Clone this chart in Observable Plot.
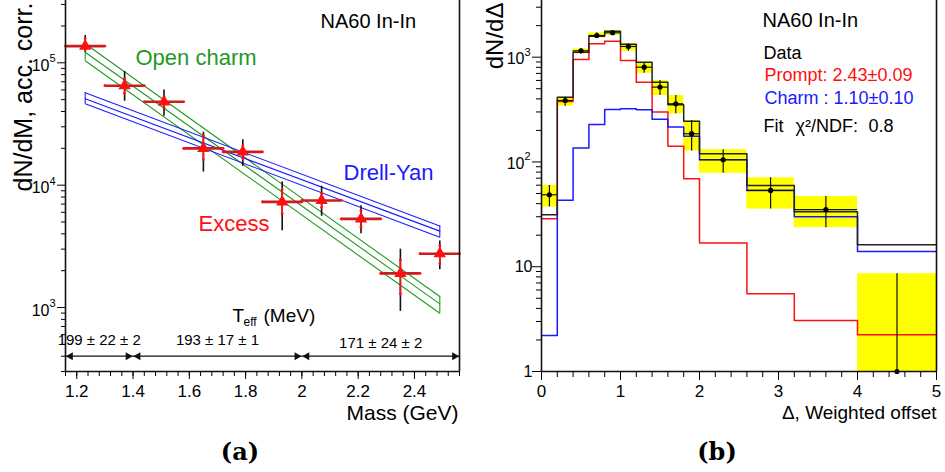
<!DOCTYPE html>
<html><head><meta charset="utf-8">
<script src="https://cdn.jsdelivr.net/npm/d3@7"></script>
<script src="https://cdn.jsdelivr.net/npm/@observablehq/plot@0.6"></script>
<style>
body{margin:0;background:#fff;}
#wrap{position:relative;width:945px;height:472px;font-family:"Liberation Sans",Arial,sans-serif;background:#fff;}
#a,#b{position:absolute;top:0;}
#a{left:0;} #b{left:472px;}
.cap{position:absolute;top:437px;width:60px;text-align:center;font:bold 24px "DejaVu Serif",serif;}
</style></head>
<body><div id="wrap"><div id="a"></div><div id="b"></div>
<div class="cap" style="left:210px">(a)</div><div class="cap" style="left:687px">(b)</div></div>
<script>
// ---------- Panel (a): excess mass spectrum ----------
const massLo  = [1.16, 1.30, 1.44, 1.58, 1.72, 1.86, 2.00, 2.14, 2.28, 2.42];
const massHi  = [1.30, 1.44, 1.58, 1.72, 1.86, 2.00, 2.14, 2.28, 2.42, 2.56];
const massMid = [1.23, 1.37, 1.51, 1.65, 1.79, 1.93, 2.07, 2.21, 2.35, 2.49];
const excess  = [1.37e5, 6.5e4, 4.8e4, 2.0e4, 1.87e4, 7.3e3, 7.5e3, 5.3e3, 1.9e3, 2.75e3];
const systLo  = [1.22e5, 4.85e4, 3.66e4, 1.28e4, 1.43e4, 4.25e3, 5.57e3, 4.0e3, 930, 2.04e3];
const systHi  = [1.67e5, 8.5e4, 6.0e4, 2.71e4, 2.35e4, 1.06e4, 9.8e3, 6.8e3, 3.0e3, 3.5e3];
const statLo  = [1.28e5, 5.64e4, 4.31e4, 1.62e4, 1.65e4, 5.86e3, 6.56e3, 4.53e3, 1.29e3, 2.28e3];
const statHi  = [1.58e5, 7.45e4, 5.3e4, 2.55e4, 2.1e4, 9.2e3, 8.6e3, 6.2e3, 2.45e3, 3.2e3];

const bandMass  = [1.23, 2.49];
const charmLoB  = [1.04e5, 898];
const charmMidB = [1.22e5, 1.07e3];
const charmHiB  = [1.43e5, 1.23e3];
const dyLoB     = [4.63e4, 3.76e3];
const dyMidB    = [5.08e4, 4.21e3];
const dyHiB     = [5.69e4, 4.63e3];

const teffLo     = [1.16, 1.40, 2.00];
const teffHi     = [1.40, 2.00, 2.56];
const teffLabels = ["199 ± 22 ± 2", "193 ± 17 ± 1", "171 ± 24 ± 2"];
const teffArrowLevel = 400;

const massTicks   = [1.2, 1.4, 1.6, 1.8, 2.0, 2.2, 2.4];
const massTickLbl = ["1.2", "1.4", "1.6", "1.8", "2", "2.2", "2.4"];
const yTicksA     = [1e3, 1e4, 1e5];
const yTickExpA   = ["3", "4", "5"];

// ---------- Panel (b): weighted offset ----------
const histEdges = [0, 0.2, 0.4, 0.6, 0.8, 1.0, 1.2, 1.4, 1.6, 1.8, 2.0, 2.6, 3.2, 4.0, 5.0];
const dataVal   = [48.6, 386, 1150, 1610, 1710, 1265, 803, 518, 359, 186, 105, 53.5, 35, 1.0];
const dataLo    = [37.1, 341, 1077, 1531, 1611, 1141, 703, 431, 288, 127, 78, 35.5, 23.6, 1.0];
const dataHi    = [59.7, 415, 1202, 1711, 1799, 1343, 885, 600, 431, 249, 131, 70.6, 46.9, 8.57];
const fitTotal  = [31.3, 415, 1116, 1585, 1771, 1330, 896, 577, 351, 245, 120, 59.7, 33.5, 16.2];
const fitPrompt = [28.7, 378, 951, 1343, 1422, 930, 577, 299, 141, 69.2, 16.8, 5.52, 3.07, 2.24];
const fitCharm  = [2.21, 43, 135.6, 228, 317, 322, 315, 255, 215, 176, 105, 53.5, 30, 14.0];

const offTicks   = [0, 1, 2, 3, 4, 5];
const offTickLbl = ["0", "1", "2", "3", "4", "5"];
const yTicksB    = [1, 10, 100, 1000];
const yTickBaseB = ["1", "10", "10", "10"];
const yTickExpB  = ["", "", "2", "3"];

const GREEN = "#1f9a1f", BLUE = "#1a1aff", RED = "#ff1010", DARKRED = "#c81e1e";
const FONT = "'Liberation Sans', Arial, Helvetica, sans-serif";

function minorLog(lo, hi) {
  const out = [];
  for (let e = Math.floor(Math.log10(lo)); e <= Math.ceil(Math.log10(hi)); e++)
    for (let k = 2; k <= 9; k++) { const v = k * 10 ** e; if (v >= lo && v <= hi) out.push(v); }
  return out;
}

// ---- build panel a ----
const pts = massMid.map((m, i) => ({m, lo: massLo[i], hi: massHi[i], y: excess[i],
  sLo: systLo[i], sHi: systHi[i], tLo: statLo[i], tHi: statHi[i]}));
const lineOf = (arr) => bandMass.map((x, i) => ({x, y: arr[i]}));
const endsOf = (lo, hi) => bandMass.map((x, i) => ({x, y1: lo[i], y2: hi[i]}));
const caps = pts.flatMap(p => [{x: p.m, y: p.tLo}, {x: p.m, y: p.tHi}, {x: p.lo, y: p.y}, {x: p.hi, y: p.y}]);
const teff = teffLo.map((lo, i) => ({lo, hi: teffHi[i], label: teffLabels[i], y: teffArrowLevel}));
const massMinor = d3.range(0, 36).map(i => +(1.16 + 0.04 * i).toFixed(2));
const yDomA = [300, 3.23e5];

const topText = (txt, o) => Plot.text([txt], {frameAnchor: "top-left", text: d => d, textAnchor: "start", lineAnchor: "middle", ...o});

const panelA = Plot.plot({
  width: 472, height: 420,
  marginLeft: 65, marginRight: 13, marginTop: 0, marginBottom: 49,
  x: {domain: [1.16, 2.56]},
  y: {type: "log", domain: yDomA},
  style: {fontFamily: FONT, fontSize: "17px", color: "black", background: "white", overflow: "visible"},
  marks: [
    ...[charmLoB, charmMidB, charmHiB].map(a => Plot.line(lineOf(a), {x: "x", y: "y", stroke: GREEN, strokeWidth: 1.1})),
    Plot.ruleX(endsOf(charmLoB, charmHiB), {x: "x", y1: "y1", y2: "y2", stroke: GREEN, strokeWidth: 1.1}),
    ...[dyLoB, dyMidB, dyHiB].map(a => Plot.line(lineOf(a), {x: "x", y: "y", stroke: BLUE, strokeWidth: 1.1})),
    Plot.ruleX(endsOf(dyLoB, dyHiB), {x: "x", y1: "y1", y2: "y2", stroke: BLUE, strokeWidth: 1.1}),
    Plot.ruleX(pts, {x: "m", y1: "sLo", y2: "sHi", stroke: "#111", strokeWidth: 1.6}),
    Plot.ruleX(pts, {x: "m", y1: "tLo", y2: "tHi", stroke: RED, strokeWidth: 1.6}),
    Plot.ruleY(pts, {y: "y", x1: "lo", x2: "hi", stroke: DARKRED, strokeWidth: 2.6}),
    Plot.dot(caps, {x: "x", y: "y", r: 1.4, fill: RED}),
    Plot.dot(pts, {x: "m", y: "y", symbol: "triangle", r: 4.6, fill: RED}),
    // T_eff arrows
    Plot.ruleY(teff, {y: "y", x1: "lo", x2: "hi", stroke: "#111", strokeWidth: 1.2}),
    Plot.dot(teff, {x: "hi", y: "y", symbol: "triangle", rotate: 90, r: 3, fill: "#111", dx: -5}),
    Plot.dot(teff, {x: "lo", y: "y", symbol: "triangle", rotate: -90, r: 3, fill: "#111", dx: 5}),
    Plot.text(teff, {x: d => (d.lo + d.hi) / 2, y: "y", text: "label", fontSize: 15, dy: -16, dx: 0,
      filter: (d, i) => i < 2}),
    Plot.text(teff, {x: d => (d.lo + d.hi) / 2, y: "y", text: "label", fontSize: 15, dy: -13, dx: 0,
      filter: (d, i) => i === 2}),
    // frame
    Plot.ruleX([1.16, 2.56], {stroke: "#111", strokeWidth: 1.6}),
    Plot.ruleY([yDomA[0]], {stroke: "#111", strokeWidth: 1.6}),
    // axes
    Plot.axisX(massTicks, {tickSize: 8, tickPadding: 5, tickFormat: (d) => massTickLbl[massTicks.indexOf(d)], label: null, fontSize: 17}),
    Plot.axisX(massMinor, {tickSize: 5, tickFormat: () => "", label: null}),
    Plot.axisY(yTicksA, {tickSize: 8, tickFormat: () => "", label: null}),
    Plot.axisY(minorLog(yDomA[0], yDomA[1]), {tickSize: 4, tickFormat: () => "", label: null}),
    Plot.text(yTicksA, {y: d => d, frameAnchor: "left", text: () => "10", textAnchor: "end", dx: -16, dy: 3, fontSize: 16}),
    Plot.text(yTicksA, {y: d => d, frameAnchor: "left", text: (d, i) => yTickExpA[i], textAnchor: "start", dx: -16, dy: -4, fontSize: 11}),
    // labels
    Plot.text(["dN/dM, acc. corr."], {frameAnchor: "top-left", text: d => d, rotate: -90, textAnchor: "end", lineAnchor: "middle", dx: -42, dy: 2, fontSize: 25}),
    Plot.text(["Mass (GeV)"], {frameAnchor: "bottom-right", text: d => d, textAnchor: "end", lineAnchor: "middle", dx: -1, dy: 42, fontSize: 21}),
    topText("NA60 In-In", {dx: 255, dy: 21, fontSize: 20}),
    topText("Open charm", {dx: 70, dy: 57, fontSize: 22, fill: GREEN}),
    topText("Drell-Yan", {dx: 278, dy: 172, fontSize: 22, fill: BLUE}),
    topText("Excess", {dx: 133, dy: 223, fontSize: 22, fill: RED}),
    topText("T", {dx: 167, dy: 315, fontSize: 19}),
    topText("eff", {dx: 178, dy: 322, fontSize: 12}),
    topText("(MeV)", {dx: 198, dy: 315, fontSize: 19})
  ]
});
document.getElementById("a").append(panelA);

// ---- build panel b ----
const bins = dataVal.map((v, i) => ({x1: histEdges[i], x2: histEdges[i + 1], xc: (histEdges[i] + histEdges[i + 1]) / 2,
  v, lo: dataLo[i], hi: dataHi[i]}));
const stepOf = (arr) => histEdges.map((e, i) => ({x: e, y: arr[Math.min(i, arr.length - 1)]}));
const offMinor = d3.range(0, 26).map(i => +(0.2 * i).toFixed(1));
const yDomB = [1, 3475];

const panelB = Plot.plot({
  width: 473, height: 420,
  marginLeft: 69, marginRight: 9, marginTop: 0, marginBottom: 49,
  x: {domain: [0, 5]},
  y: {type: "log", domain: yDomB},
  style: {fontFamily: FONT, fontSize: "17px", color: "black", background: "white", overflow: "visible"},
  marks: [
    Plot.rect(bins, {x1: "x1", x2: "x2", y1: "lo", y2: "hi", fill: "#ffff00"}),
    Plot.line(stepOf(fitPrompt), {x: "x", y: "y", curve: "step-after", stroke: RED, strokeWidth: 1.5}),
    Plot.line(stepOf(fitCharm), {x: "x", y: "y", curve: "step-after", stroke: BLUE, strokeWidth: 1.5}),
    Plot.line(stepOf(fitTotal), {x: "x", y: "y", curve: "step-after", stroke: "#222", strokeWidth: 1.5}),
    Plot.ruleX(bins, {x: "xc", y1: "lo", y2: "hi", stroke: "#111", strokeWidth: 1.2}),
    Plot.ruleY(bins, {y: "v", x1: "x1", x2: "x2", stroke: "#111", strokeWidth: 1.2}),
    Plot.dot(bins, {x: "xc", y: "v", r: 2.6, fill: "#000"}),
    // frame
    Plot.ruleX([0, 5], {stroke: "#111", strokeWidth: 1.6}),
    Plot.ruleY([yDomB[0]], {stroke: "#111", strokeWidth: 1.6}),
    // axes
    Plot.axisX(offTicks, {tickSize: 9, tickPadding: 4, tickFormat: d => offTickLbl[offTicks.indexOf(d)], label: null, fontSize: 17}),
    Plot.axisX(offMinor, {tickSize: 6, tickFormat: () => "", label: null}),
    Plot.axisY(yTicksB, {tickSize: 9, tickFormat: () => "", label: null}),
    Plot.axisY(minorLog(yDomB[0], yDomB[1]), {tickSize: 5, tickFormat: () => "", label: null}),
    Plot.text(yTicksB, {y: d => d, frameAnchor: "left", text: (d, i) => yTickBaseB[i], textAnchor: "end", dx: -9, dy: 0, fontSize: 16,
      filter: (d, i) => yTickExpB[i] === ""}),
    Plot.text(yTicksB, {y: d => d, frameAnchor: "left", text: (d, i) => yTickBaseB[i], textAnchor: "end", dx: -17, dy: 2, fontSize: 16,
      filter: (d, i) => yTickExpB[i] !== ""}),
    Plot.text(yTicksB, {y: d => d, frameAnchor: "left", text: (d, i) => yTickExpB[i], textAnchor: "start", dx: -17, dy: -5, fontSize: 11,
      filter: (d, i) => yTickExpB[i] !== ""}),
    // labels
    Plot.text(["dN/dΔ"], {frameAnchor: "top-left", text: d => d, rotate: -90, textAnchor: "end", lineAnchor: "middle", dx: -46, dy: 2, fontSize: 24}),
    Plot.text(["Δ, Weighted offset"], {frameAnchor: "bottom-right", text: d => d, textAnchor: "end", lineAnchor: "middle", dx: 0, dy: 41, fontSize: 19}),
    topText("NA60 In-In", {dx: 221, dy: 20, fontSize: 20}),
    topText("Data", {dx: 222, dy: 53, fontSize: 18}),
    topText("Prompt: 2.43±0.09", {dx: 223, dy: 75, fontSize: 18, fill: RED}),
    topText("Charm : 1.10±0.10", {dx: 223, dy: 98, fontSize: 18, fill: BLUE}),
    topText("Fit", {dx: 222, dy: 126, fontSize: 18}),
    topText("χ²/NDF:", {dx: 254, dy: 126, fontSize: 18}),
    topText("0.8", {dx: 327, dy: 126, fontSize: 18})
  ]
});
document.getElementById("b").append(panelB);
</script>
</body></html>
